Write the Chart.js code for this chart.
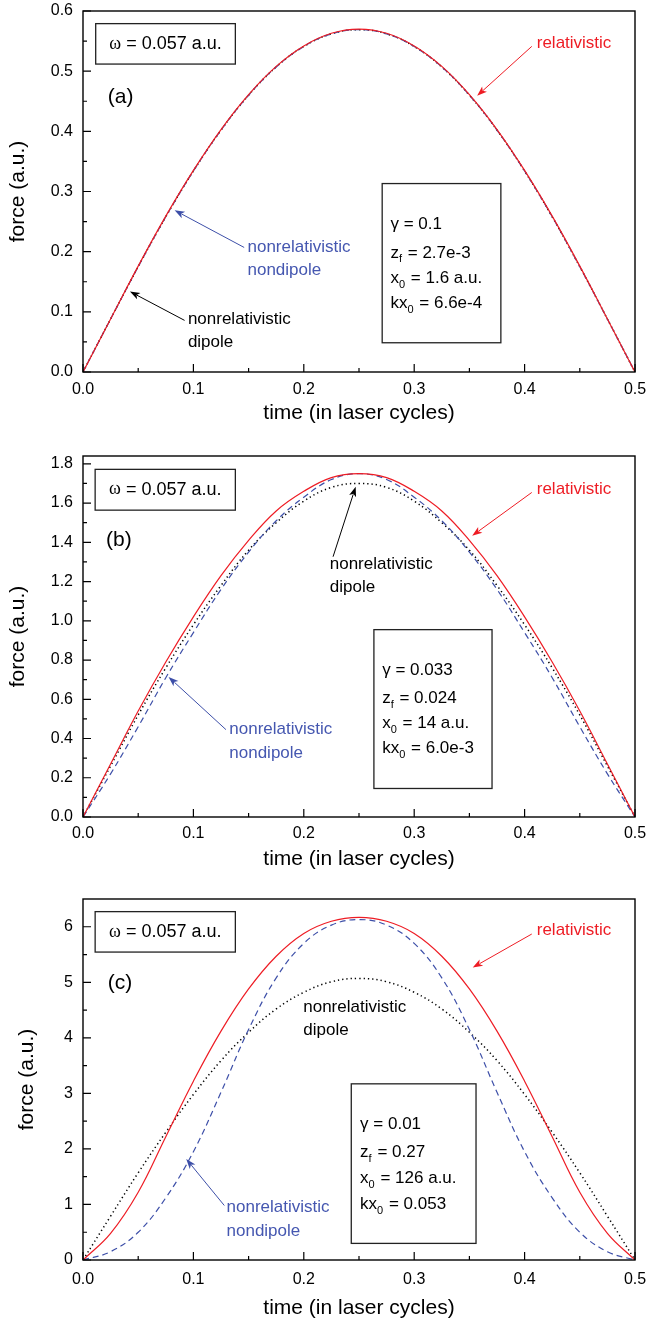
<!DOCTYPE html>
<html><head><meta charset="utf-8">
<script src="https://cdn.jsdelivr.net/npm/chart.js@4"></script>
<style>
html,body{margin:0;padding:0;background:#fff;overflow:hidden;width:648px;height:1321px;position:relative;}
canvas{position:absolute;left:0;}
</style></head><body>
<canvas id="ca" width="648" height="445" style="top:0px"></canvas>
<canvas id="cb" width="648" height="445" style="top:445px"></canvas>
<canvas id="cc" width="648" height="433" style="top:888px"></canvas>
<script>
// ---- data ----
const timeValues = [0,0.025,0.05,0.075,0.1,0.125,0.15,0.175,0.2,0.225,0.25,0.275,0.3,0.325,0.35,0.375,0.4,0.425,0.45,0.475,0.5];
const xTickValues = [0,0.1,0.2,0.3,0.4,0.5];
const xMinorValues = [0.05,0.15,0.25,0.35,0.45];

// panel (a)
const relA    = [0,0.088,0.176,0.259,0.335,0.403,0.461,0.508,0.542,0.563,0.570,0.563,0.542,0.508,0.461,0.403,0.335,0.259,0.176,0.088,0];
const nondipA = [0,0.088,0.175,0.258,0.334,0.402,0.460,0.507,0.541,0.562,0.569,0.562,0.541,0.507,0.460,0.402,0.334,0.258,0.175,0.088,0];
const dipA    = [0,0.088,0.175,0.258,0.334,0.402,0.460,0.507,0.541,0.562,0.569,0.562,0.541,0.507,0.460,0.402,0.334,0.258,0.175,0.088,0];
const yTicksA = [0,0.1,0.2,0.3,0.4,0.5,0.6];
const yMinorA = [0.05,0.15,0.25,0.35,0.45,0.55];

// panel (b)
const relB    = [0,0.27,0.54,0.79,1.02,1.23,1.41,1.56,1.66,1.73,1.75,1.73,1.66,1.56,1.41,1.23,1.02,0.79,0.54,0.27,0];
const nondipB = [0,0.22,0.46,0.71,0.94,1.16,1.35,1.51,1.63,1.72,1.75,1.72,1.63,1.51,1.35,1.16,0.94,0.71,0.46,0.22,0];
const dipB    = [0,0.26,0.52,0.76,0.98,1.18,1.36,1.50,1.61,1.68,1.70,1.68,1.61,1.50,1.36,1.18,0.98,0.76,0.52,0.26,0];
const yTicksB = [0,0.2,0.4,0.6,0.8,1.0,1.2,1.4,1.6,1.8];
const yMinorB = [0.1,0.3,0.5,0.7,0.9,1.1,1.3,1.5,1.7];

// panel (c)
const relC    = [0,0.48,1.22,2.22,3.22,4.12,4.88,5.47,5.88,6.10,6.17,6.10,5.88,5.47,4.88,4.12,3.22,2.22,1.22,0.48,0];
const nondipC = [0,0.15,0.50,1.12,1.95,3.02,4.15,5.08,5.70,6.03,6.13,6.03,5.70,5.08,4.15,3.02,1.95,1.12,0.50,0.15,0];
const dipC    = [0,0.79,1.57,2.30,2.98,3.59,4.10,4.52,4.82,5.01,5.07,5.01,4.82,4.52,4.10,3.59,2.98,2.30,1.57,0.79,0];
const yTicksC = [0,1,2,3,4,5,6];
const yMinorC = [0.5,1.5,2.5,3.5,4.5,5.5];

// ---- styles ----
const SANS = '"Liberation Sans", Arial, Helvetica, sans-serif';
const SERIF = '"Liberation Serif", "DejaVu Serif", serif';
const RED = '#ee1c24';
const BLUE = '#3d4fa8';
const BLUE_TXT = '#4557b0';

function drawRich(ctx, x, y, parts, size, color) {
  let cx = x;
  ctx.textBaseline = 'middle';
  ctx.textAlign = 'left';
  ctx.fillStyle = color;
  for (const p of parts) {
    const fs = p.sub ? Math.round(size * 0.62) : size;
    ctx.font = fs + 'px ' + (p.serif ? SERIF : SANS);
    ctx.fillText(p.t, cx, y + (p.sub ? size * 0.38 : 0));
    cx += ctx.measureText(p.t).width + (p.sub ? 1 : 0);
  }
  return cx;
}
function arrow(ctx, x1, y1, x2, y2, color) {
  const ang = Math.atan2(y2 - y1, x2 - x1);
  const L = 10, W = 3.6;
  ctx.save();
  ctx.strokeStyle = color; ctx.fillStyle = color; ctx.lineWidth = 1;
  ctx.beginPath();
  ctx.moveTo(x1, y1);
  ctx.lineTo(x2 - Math.cos(ang) * L * 0.8, y2 - Math.sin(ang) * L * 0.8);
  ctx.stroke();
  ctx.beginPath();
  ctx.moveTo(x2, y2);
  ctx.lineTo(x2 - Math.cos(ang) * L - Math.sin(ang) * W, y2 - Math.sin(ang) * L + Math.cos(ang) * W);
  ctx.lineTo(x2 - Math.cos(ang) * L * 0.75, y2 - Math.sin(ang) * L * 0.75);
  ctx.lineTo(x2 - Math.cos(ang) * L + Math.sin(ang) * W, y2 - Math.sin(ang) * L - Math.cos(ang) * W);
  ctx.closePath();
  ctx.fill();
  ctx.restore();
}

function makeFramePlugin(a) {
  return {
    id: 'frameAnnot',
    afterDraw(chart) {
      const ctx = chart.ctx, ca = chart.chartArea;
      const xs = chart.scales.x, ys = chart.scales.y;
      const X = f => ca.left + f * (ca.right - ca.left);
      const Y = f => ca.top + f * (ca.bottom - ca.top);
      ctx.save();
      // frame
      ctx.strokeStyle = '#000'; ctx.lineWidth = 1.4;
      ctx.strokeRect(ca.left, ca.top, ca.right - ca.left, ca.bottom - ca.top);
      // inward ticks
      ctx.lineWidth = 1.2;
      ctx.beginPath();
      xTickValues.forEach(v => { const px = xs.getPixelForValue(v); ctx.moveTo(px, ca.bottom); ctx.lineTo(px, ca.bottom - 8); });
      xMinorValues.forEach(v => { const px = xs.getPixelForValue(v); ctx.moveTo(px, ca.bottom); ctx.lineTo(px, ca.bottom - 4); });
      a.yTicks.forEach(v => { const py = ys.getPixelForValue(v); ctx.moveTo(ca.left, py); ctx.lineTo(ca.left + 8, py); });
      a.yMinor.forEach(v => { const py = ys.getPixelForValue(v); ctx.moveTo(ca.left, py); ctx.lineTo(ca.left + 4, py); });
      ctx.stroke();
      // omega box
      const ob = a.omegaBox;
      ctx.strokeStyle = '#222'; ctx.lineWidth = 1.3;
      ctx.strokeRect(X(ob[0]), Y(ob[1]), X(ob[2]) - X(ob[0]), Y(ob[3]) - Y(ob[1]));
      const omParts = [{t: 'ω', serif: true}, {t: ' = 0.057 a.u.'}];
      let w = 0; ctx.font = '18px ' + SERIF; w += ctx.measureText('ω').width; ctx.font = '18px ' + SANS; w += ctx.measureText(' = 0.057 a.u.').width;
      drawRich(ctx, (X(ob[0]) + X(ob[2])) / 2 - w / 2, (Y(ob[1]) + Y(ob[3])) / 2, omParts, 18, '#000');
      // panel label
      ctx.font = '21px ' + SANS; ctx.fillStyle = '#000'; ctx.textAlign = 'center'; ctx.textBaseline = 'middle';
      ctx.fillText(a.label, X(a.labelPos[0]), Y(a.labelPos[1]));
      // params box
      const pb = a.paramBox;
      ctx.strokeStyle = '#222'; ctx.lineWidth = 1.3;
      ctx.strokeRect(X(pb[0]), Y(pb[1]), X(pb[2]) - X(pb[0]), Y(pb[3]) - Y(pb[1]));
      a.params.forEach((parts, i) => drawRich(ctx, X(a.paramX), Y(a.paramY[i]), parts, 17, '#000'));
      // annotations
      a.notes.forEach(n => {
        n.lines.forEach((txt, i) => drawRich(ctx, X(n.x), Y(n.y[i]), [{t: txt}], 17, n.color));
        if (n.arrow) arrow(ctx, X(n.arrow[0]), Y(n.arrow[1]), X(n.arrow[2]), Y(n.arrow[3]), n.arrowColor || n.color);
      });
      ctx.restore();
    }
  };
}

function makeChart(id, p) {
  const pts = arr => timeValues.map((t, i) => ({x: t, y: arr[i]}));
  const cfg = {
    type: 'line',
    data: {
      datasets: [
        {label: 'relativistic', data: pts(p.rel), borderColor: RED, borderWidth: 1.2, pointRadius: 0, tension: 0.4, fill: false},
        {label: 'nonrelativistic nondipole', data: pts(p.nondip), borderColor: BLUE, borderWidth: 1.2, borderDash: [6, 4], pointRadius: 0, tension: 0.4, fill: false},
        {label: 'nonrelativistic dipole', data: pts(p.dip), borderColor: '#000', borderWidth: 1.5, borderDash: [1.3, 3], pointRadius: 0, tension: 0.4, fill: false}
      ]
    },
    options: {
      responsive: false, animation: false, devicePixelRatio: 1,
      layout: {padding: {top: 11, right: 13, left: 0, bottom: 0}},
      plugins: {legend: {display: false}, tooltip: {enabled: false}},
      scales: {
        x: {
          type: 'linear', min: 0, max: 0.5,
          grid: {display: false, drawTicks: false}, border: {display: false},
          afterBuildTicks: s => { s.ticks = xTickValues.map(v => ({value: v})); },
          afterFit: s => { s.height = p.xAxisH; s.paddingLeft = 0; s.paddingRight = 0; },
          ticks: {padding: p.xTickPad, color: '#000', font: {family: SANS, size: 16}, callback: v => Number(v).toFixed(1), maxRotation: 0, autoSkip: false},
          title: {display: true, text: 'time (in laser cycles)', color: '#000', font: {family: SANS, size: 21, lineHeight: 1.2}, padding: {top: 0, bottom: p.xTitlePad}}
        },
        y: {
          type: 'linear', min: 0, max: p.yMax,
          grid: {display: false, drawTicks: false}, border: {display: false},
          afterBuildTicks: s => { s.ticks = p.yTicks.map(v => ({value: v})); },
          afterFit: s => { s.width = 83; s.paddingTop = 0; s.paddingBottom = 0; },
          ticks: {padding: 10, color: '#000', font: {family: SANS, size: 16}, callback: v => Number(v).toFixed(p.dec), autoSkip: false},
          title: {display: true, text: 'force (a.u.)', color: '#000', font: {family: SANS, size: 21, lineHeight: 1.2}, padding: {top: p.yTitlePad, bottom: 0}}
        }
      }
    },
    plugins: [makeFramePlugin(p)]
  };
  return new Chart(document.getElementById(id), cfg);
}

const nrLines = ['nonrelativistic', 'nondipole'];
const ndLines = ['nonrelativistic', 'dipole'];

makeChart('ca', {
  rel: relA, nondip: nondipA, dip: dipA, yMax: 0.6, yTicks: yTicksA, yMinor: yMinorA, dec: 1,
  xAxisH: 73, xTickPad: 8, xTitlePad: 19.4, yTitlePad: 6,
  omegaBox: [0.023, 0.035, 0.276, 0.147], label: '(a)', labelPos: [0.068, 0.238],
  paramBox: [0.542, 0.478, 0.757, 0.919], paramX: 0.557, paramY: [0.591, 0.670, 0.741, 0.811],
  params: [[{t: 'γ = 0.1'}], [{t: 'z'}, {t: 'f', sub: true}, {t: ' = 2.7e-3'}], [{t: 'x'}, {t: '0', sub: true}, {t: ' = 1.6 a.u.'}], [{t: 'kx'}, {t: '0', sub: true}, {t: ' = 6.6e-4'}]],
  notes: [
    {lines: ['relativistic'], x: 0.822, y: [0.089], color: RED, arrow: [0.813, 0.098, 0.714, 0.235]},
    {lines: nrLines, x: 0.298, y: [0.654, 0.717], color: BLUE_TXT, arrow: [0.292, 0.655, 0.166, 0.552], arrowColor: BLUE},
    {lines: ndLines, x: 0.19, y: [0.854, 0.919], color: '#000', arrow: [0.184, 0.857, 0.085, 0.777]}
  ]
});
makeChart('cb', {
  rel: relB, nondip: nondipB, dip: dipB, yMax: 1.84, yTicks: yTicksB, yMinor: yMinorB, dec: 1,
  xAxisH: 73, xTickPad: 7, xTitlePad: 18.4, yTitlePad: 6,
  omegaBox: [0.022, 0.037, 0.276, 0.150], label: '(b)', labelPos: [0.065, 0.233],
  paramBox: [0.527, 0.481, 0.741, 0.921], paramX: 0.542, paramY: [0.593, 0.672, 0.741, 0.811],
  params: [[{t: 'γ = 0.033'}], [{t: 'z'}, {t: 'f', sub: true}, {t: ' = 0.024'}], [{t: 'x'}, {t: '0', sub: true}, {t: ' = 14 a.u.'}], [{t: 'kx'}, {t: '0', sub: true}, {t: ' = 6.0e-3'}]],
  notes: [
    {lines: ['relativistic'], x: 0.822, y: [0.0915], color: RED, arrow: [0.813, 0.101, 0.705, 0.221]},
    {lines: ndLines, x: 0.447, y: [0.300, 0.365], color: '#000', arrow: [0.453, 0.279, 0.494, 0.085]},
    {lines: nrLines, x: 0.265, y: [0.756, 0.823], color: BLUE_TXT, arrow: [0.259, 0.758, 0.155, 0.612], arrowColor: BLUE}
  ]
});
makeChart('cc', {
  rel: relC, nondip: nondipC, dip: dipC, yMax: 6.5, yTicks: yTicksC, yMinor: yMinorC, dec: 0,
  xAxisH: 61, xTickPad: 10, xTitlePad: 0.4, yTitlePad: 14.4,
  omegaBox: [0.022, 0.035, 0.276, 0.147], label: '(c)', labelPos: [0.067, 0.234],
  paramBox: [0.486, 0.512, 0.712, 0.954], paramX: 0.502, paramY: [0.625, 0.701, 0.775, 0.845],
  params: [[{t: 'γ = 0.01'}], [{t: 'z'}, {t: 'f', sub: true}, {t: ' = 0.27'}], [{t: 'x'}, {t: '0', sub: true}, {t: ' = 126 a.u.'}], [{t: 'kx'}, {t: '0', sub: true}, {t: ' = 0.053'}]],
  notes: [
    {lines: ['relativistic'], x: 0.822, y: [0.088], color: RED, arrow: [0.813, 0.097, 0.706, 0.190]},
    {lines: ndLines, x: 0.399, y: [0.299, 0.365], color: '#000'},
    {lines: nrLines, x: 0.260, y: [0.854, 0.920], color: BLUE_TXT, arrow: [0.256, 0.849, 0.187, 0.720], arrowColor: BLUE}
  ]
});
</script>
</body></html>
